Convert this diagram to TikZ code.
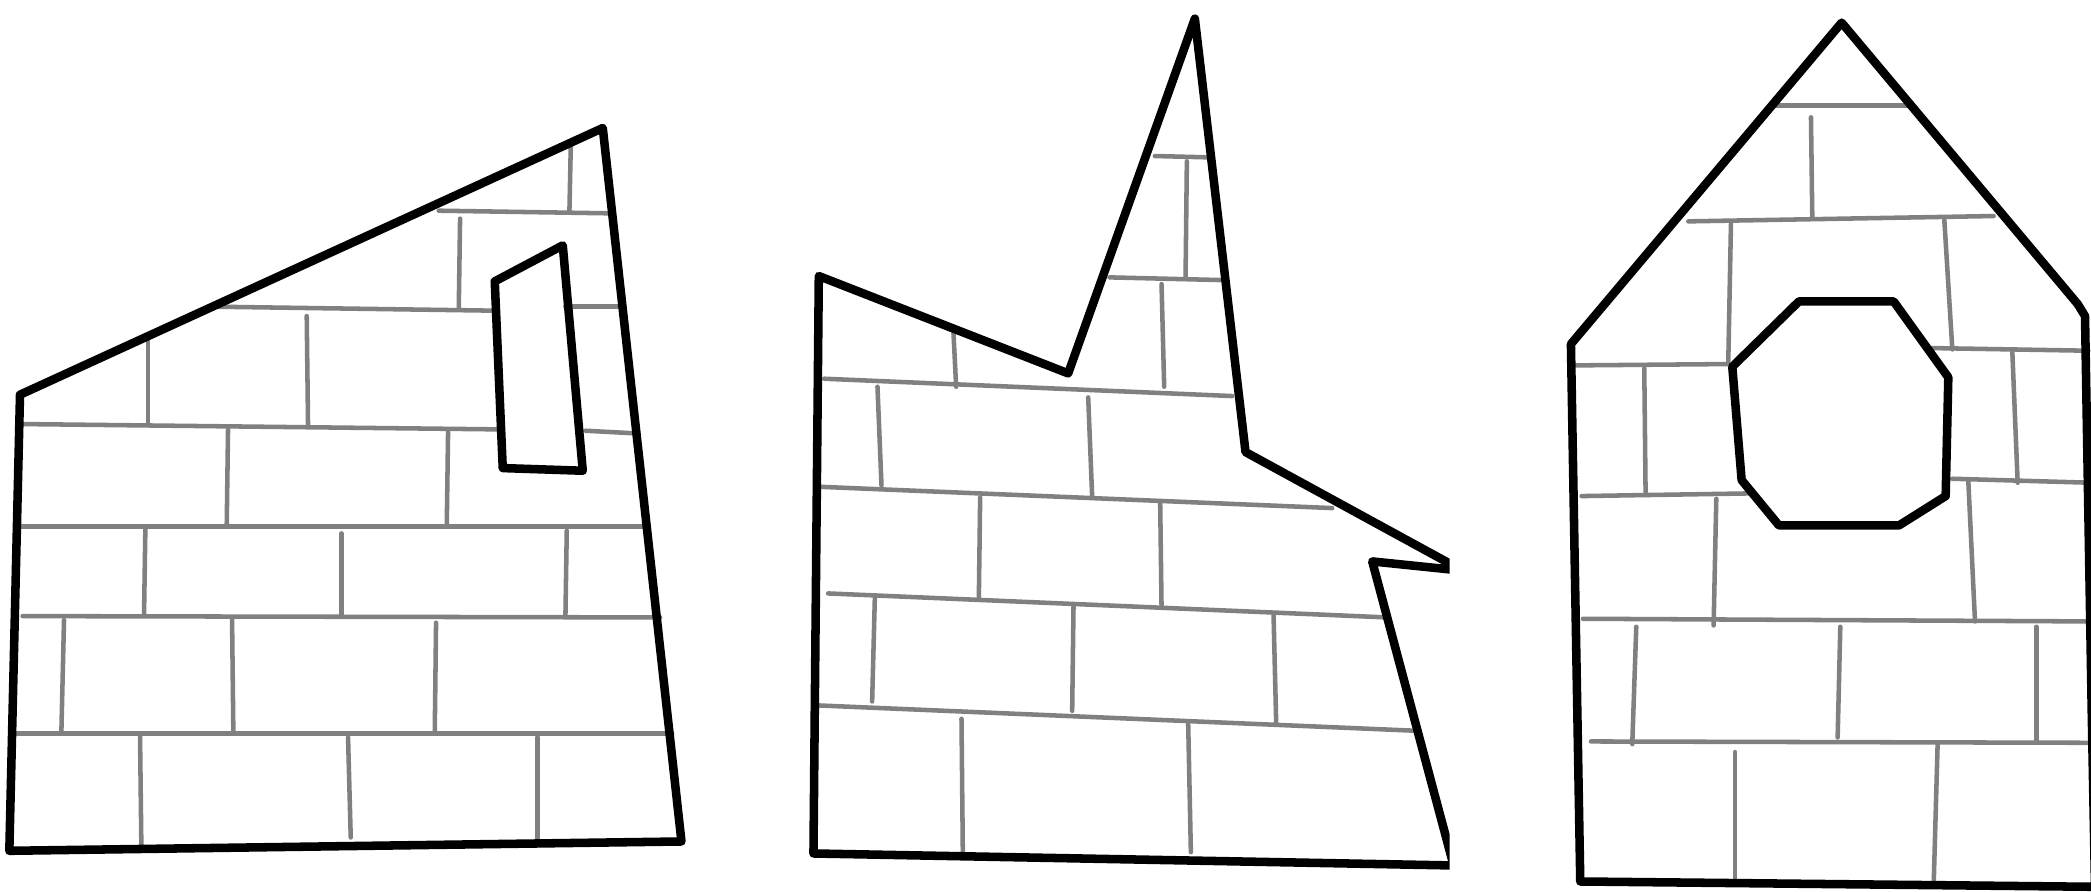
\documentclass[tikz,border=0pt]{standalone}
\definecolor{brickgray}{HTML}{808080}
\begin{document}
\begin{tikzpicture}[x=0.5pt,y=-0.5pt,
  wall/.style={draw=black, line width=3.2pt, line join=round},
  brick/.style={draw=brickgray, line width=1.7pt, line cap=round}]
\clip (0,0) rectangle (1568,668.2);
\fill[white] (0,0) rectangle (1568,668.2);

% ---------- left wall ----------
\draw[brick] (329,158)--(459,160);
\draw[brick] (162,230)--(373,233);
\draw[brick] (424,230)--(467,230);
\draw[brick] (17,318)--(375,322);
\draw[brick] (439,323)--(477,325);
\draw[brick] (15,395)--(485,395);
\draw[brick] (17,462)--(495,463);
\draw[brick] (10,550)--(504,550);
\draw[brick] (428,110)--(427,158);
\draw[brick] (345,164)--(344,232);
\draw[brick] (111,256)--(111,318);
\draw[brick] (230,237)--(231,320);
\draw[brick] (171,322)--(170,395);
\draw[brick] (336,324)--(335,395);
\draw[brick] (109,397)--(108,462);
\draw[brick] (256,400)--(256,462);
\draw[brick] (425,398)--(424,462);
\draw[brick] (48,465)--(46,550);
\draw[brick] (174,463)--(175,550);
\draw[brick] (327,467)--(326,550);
\draw[brick] (105,551)--(106,634);
\draw[brick] (261,553)--(263,628);
\draw[brick] (403,553)--(403,632);
\draw[wall] (15,296)--(452,96)--(511,631)--(7,638)--cycle;
\draw[wall] (371,211)--(422,184)--(437,353)--(377,351)--cycle;

% ---------- middle wall ----------
\begin{scope}
\clip (0,0) rectangle (1087,668.2);
\draw[brick] (866,117)--(906,118);
\draw[brick] (832,208)--(915,210);
\draw[brick] (618,284)--(924,297);
\draw[brick] (614,365)--(999,381);
\draw[brick] (621,445)--(1040,463);
\draw[brick] (614,529)--(1062,548);
\draw[brick] (890,121)--(889,209);
\draw[brick] (871,213)--(873,290);
\draw[brick] (715,250)--(717,290);
\draw[brick] (658,290)--(661,364);
\draw[brick] (816,298)--(819,373);
\draw[brick] (735,373)--(734,449);
\draw[brick] (870,377)--(871,454);
\draw[brick] (656,449)--(654,526);
\draw[brick] (805,455)--(804,533);
\draw[brick] (955,461)--(957,543);
\draw[brick] (721,539)--(722,640);
\draw[brick] (891,543)--(893,639);
\draw[wall] (614,207)--(801,280)--(896,14)--(934,339)--(1097,428)
  --(1029,421)--(1090,649)--(610,640)--(611,530)--cycle;
\end{scope}

% ---------- right wall ----------
\draw[brick] (1329,79)--(1434,79);
\draw[brick] (1266,166)--(1495,162);
\draw[brick] (1182,274)--(1296,273);
\draw[brick] (1448,261)--(1566,263);
\draw[brick] (1186,372)--(1312,370);
\draw[brick] (1464,359)--(1568,362);
\draw[brick] (1187,464)--(1568,466);
\draw[brick] (1193,556)--(1566,557);
\draw[brick] (1358,88)--(1359,163);
\draw[brick] (1298,168)--(1296,271);
\draw[brick] (1458,165)--(1464,262);
\draw[brick] (1233,276)--(1234,371);
\draw[brick] (1509,264)--(1513,362);
\draw[brick] (1287,374)--(1285,469);
\draw[brick] (1476,361)--(1481,466);
\draw[brick] (1227,470)--(1224,558);
\draw[brick] (1380,470)--(1378,553);
\draw[brick] (1527,470)--(1527,556);
\draw[brick] (1301,564)--(1301,659);
\draw[brick] (1453,557)--(1450,664);
\draw[wall] (1178,258)--(1381,17)--(1558,228)--(1563.5,237)--(1568.5,532)
  --(1571,665)--(1185,661)--cycle;
\draw[wall] (1349,226)--(1420,226)--(1461,283)--(1459,372)--(1424,394)
  --(1334,394)--(1306,360)--(1299,275)--cycle;
\end{tikzpicture}
\end{document}
